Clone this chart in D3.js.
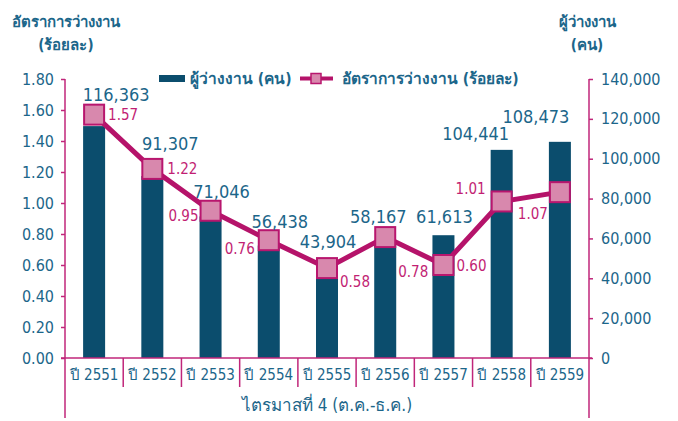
<!DOCTYPE html>
<html><head><meta charset="utf-8">
<script src="https://cdn.jsdelivr.net/npm/d3@7"></script>
<style>
body{margin:0;background:#fff;}
svg{display:block;}
text{font-family:"DejaVu Sans Condensed","DejaVu Sans","Noto Sans",sans-serif;}
</style></head>
<body><svg id="c" width="678" height="421"></svg>
<script>
// ---- data ----
const categories = ["ปี 2551","ปี 2552","ปี 2553","ปี 2554","ปี 2555","ปี 2556","ปี 2557","ปี 2558","ปี 2559"];
const unemployed = [116363, 91307, 71046, 56438, 43904, 58167, 61613, 104441, 108473];
const rate = [1.57, 1.22, 0.95, 0.76, 0.58, 0.78, 0.60, 1.01, 1.07];
const leftTicks = [0, 0.2, 0.4, 0.6, 0.8, 1.0, 1.2, 1.4, 1.6, 1.8];
const rightTicks = [0, 20000, 40000, 60000, 80000, 100000, 120000, 140000];
const leftTitle = ["อัตราการว่างงาน", "(ร้อยละ)"];
const rightTitle = ["ผู้ว่างงาน", "(คน)"];
const legendBar = "ผู้ว่างงาน (คน)";
const legendLine = "อัตราการว่างงาน (ร้อยละ)";
const xTitle = "ไตรมาสที่ 4 (ต.ค.-ธ.ค.)";

// ---- layout (label nudges, not data) ----
const barLabelDx = [22, 18, 11, 11, 1, -7, 1, -26, -24];
const barLabelDy = [-25, -26, -18, -17.5, -22.5, -19, -12, -10, -19];
const rateLabel = [ // [dx, dy, anchor]
  [14, 5.5, "start"], [15, 5, "start"], [-12, 10, "end"], [-14, 14, "end"],
  [13, 19, "start"], [13, 40, "start"], [13, 6, "start"], [-16, -7, "end"], [-12, 27, "end"]
];

const C = {bar:"#0b4d6d", axis:"#c0267a", text:"#1c668a", pink:"#c21f74", mFill:"#d888ad", mStroke:"#b8166e", line:"#b5136a"};
const L = 65, R = 589, T = 79, B = 358, AXB = 418;

const svg = d3.select("#c");
const x = d3.scaleBand().domain(categories).range([L, R]).padding(0);
const yL = d3.scaleLinear().domain([0, 1.8]).range([B, T]);
const yR = d3.scaleLinear().domain([0, 140000]).range([B, T]);
const bw = 22;
const cx = c => x(c) + x.bandwidth() / 2;

// bars
svg.append("g").selectAll("rect").data(categories).join("rect")
  .attr("x", c => cx(c) - bw / 2).attr("width", bw)
  .attr("y", (c, i) => yR(unemployed[i])).attr("height", (c, i) => B - yR(unemployed[i]))
  .attr("fill", C.bar);

// left axis
const gL = svg.append("g").attr("transform", `translate(${L},0)`)
  .call(d3.axisLeft(yL).tickValues(leftTicks).tickSize(4).tickPadding(7).tickFormat(d3.format(".2f")));
gL.select(".domain").remove();
gL.selectAll(".tick line").attr("stroke", C.axis).attr("stroke-width", 1.5);
gL.selectAll(".tick text").attr("fill", C.text).style("font-size", "16px");
svg.append("line").attr("x1", L).attr("x2", L).attr("y1", T).attr("y2", AXB).attr("stroke", C.axis).attr("stroke-width", 1.5);

// right axis
const gR = svg.append("g").attr("transform", `translate(${R},0)`)
  .call(d3.axisRight(yR).tickValues(rightTicks).tickSize(4).tickPadding(8).tickFormat(d3.format(",")));
gR.select(".domain").remove();
gR.selectAll(".tick line").attr("stroke", C.axis).attr("stroke-width", 1.5);
gR.selectAll(".tick text").attr("fill", C.text).style("font-size", "16px");
svg.append("line").attr("x1", R).attr("x2", R).attr("y1", T).attr("y2", AXB).attr("stroke", C.axis).attr("stroke-width", 1.5);

// x axis
svg.append("line").attr("x1", L - 4).attr("x2", R + 3).attr("y1", B).attr("y2", B).attr("stroke", C.axis).attr("stroke-width", 1.5);
svg.append("g").selectAll("line").data(categories.slice(1)).join("line")
  .attr("x1", c => x(c)).attr("x2", c => x(c)).attr("y1", B).attr("y2", B + 29)
  .attr("stroke", C.axis).attr("stroke-width", 1.5);
svg.append("g").selectAll("text").data(categories).join("text")
  .attr("x", cx).attr("y", B + 22).attr("text-anchor", "middle")
  .attr("fill", C.text).style("font-size", "15px").text(d => d);
svg.append("text").attr("x", (L + R) / 2).attr("y", 411).attr("text-anchor", "middle")
  .attr("fill", C.text).style("font-size", "17px").text(xTitle);

// line
const line = d3.line().x((d, i) => cx(categories[i])).y(d => yL(d));
svg.append("path").datum(rate).attr("d", line).attr("fill", "none")
  .attr("stroke", C.line).attr("stroke-width", 5).attr("stroke-linejoin", "round");
svg.append("g").selectAll("rect").data(rate).join("rect")
  .attr("x", (d, i) => cx(categories[i]) - 10).attr("y", d => yL(d) - 10)
  .attr("width", 20).attr("height", 20)
  .attr("fill", C.mFill).attr("stroke", C.mStroke).attr("stroke-width", 2);

// bar labels
svg.append("g").selectAll("text").data(unemployed).join("text")
  .attr("x", (d, i) => cx(categories[i]) + barLabelDx[i])
  .attr("y", (d, i) => yR(d) + barLabelDy[i])
  .attr("text-anchor", "middle").attr("fill", C.text)
  .style("font-size", "18px").text(d => d3.format(",")(d));

// rate labels
svg.append("g").selectAll("text").data(rate).join("text")
  .attr("x", (d, i) => cx(categories[i]) + rateLabel[i][0])
  .attr("y", (d, i) => yL(d) + rateLabel[i][1])
  .attr("text-anchor", (d, i) => rateLabel[i][2]).attr("fill", C.pink)
  .style("font-size", "15px").text(d => d3.format(".2f")(d));

// titles
svg.append("g").selectAll("text").data(leftTitle).join("text")
  .attr("x", 66).attr("y", (d, i) => 27 + i * 23).attr("text-anchor", "middle")
  .attr("fill", C.text).style("font-size", "15px").style("font-weight", "bold").text(d => d);
svg.append("g").selectAll("text").data(rightTitle).join("text")
  .attr("x", 587).attr("y", (d, i) => 27 + i * 23).attr("text-anchor", "middle")
  .attr("fill", C.text).style("font-size", "15px").style("font-weight", "bold").text(d => d);

// legend
svg.append("rect").attr("x", 159).attr("y", 75).attr("width", 26).attr("height", 7).attr("fill", C.bar);
svg.append("text").attr("x", 190).attr("y", 84).attr("fill", C.text).style("font-size", "15.5px").style("font-weight", "bold").text(legendBar);
svg.append("line").attr("x1", 300).attr("x2", 333).attr("y1", 78.5).attr("y2", 78.5).attr("stroke", C.line).attr("stroke-width", 4);
svg.append("rect").attr("x", 311).attr("y", 73.5).attr("width", 10).attr("height", 10).attr("fill", C.mFill).attr("stroke", C.mStroke).attr("stroke-width", 1.5);
svg.append("text").attr("x", 342).attr("y", 84).attr("fill", C.text).style("font-size", "15.5px").style("font-weight", "bold").text(legendLine);
</script></body></html>
